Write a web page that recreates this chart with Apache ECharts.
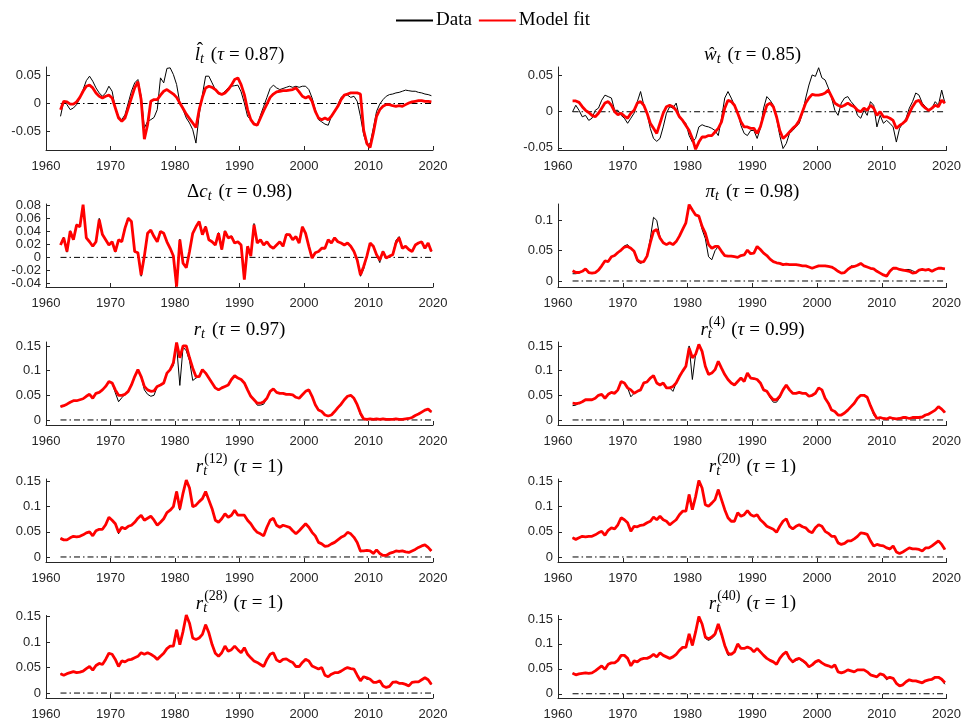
<!DOCTYPE html>
<html>
<head>
<meta charset="utf-8">
<title>Data vs model fit</title>
<script src="https://cdn.jsdelivr.net/npm/echarts@6/dist/echarts.min.js"></script>
<style>
  html, body { margin: 0; padding: 0; background: #fff; }
  #chart { width: 964px; height: 721px; }
</style>
</head>
<body>
<div id="chart"></div>
<script>
// Observation dates: first sample and spacing (years)
const START_YEAR = 1962.25;
const STEP_YEARS = 0.5;

// Labour (hat l_t)
const lhatData = [-0.023,0.004,-0.002,-0.011,-0.008,-0.002,0.010,0.025,0.041,0.049,
  0.040,0.028,0.019,0.013,0.019,0.031,0.022,-0.008,-0.023,-0.029,
  -0.020,0.001,0.022,0.037,0.043,0.013,-0.044,-0.032,-0.029,-0.025,
  -0.011,0.046,0.037,0.063,0.064,0.052,0.034,0.001,-0.011,-0.026,
  -0.035,-0.047,-0.071,-0.020,0.016,0.049,0.049,0.037,0.025,0.017,
  0.017,0.022,0.028,0.031,0.032,0.033,0.021,0.001,-0.023,-0.029,
  -0.035,-0.039,-0.021,-0.005,0.011,0.027,0.033,0.028,0.025,0.027,
  0.029,0.031,0.029,0.031,0.029,0.031,0.031,0.025,0.010,-0.011,
  -0.029,-0.033,-0.037,-0.039,-0.023,-0.015,-0.002,0.011,0.015,0.015,
  0.011,0.013,0.004,-0.023,-0.056,-0.074,-0.072,-0.044,-0.014,-0.001,
  0.007,0.013,0.016,0.017,0.019,0.020,0.022,0.024,0.023,0.022,
  0.022,0.020,0.019,0.017,0.016,0.014];
const lhatFit = [-0.011,0.004,0.003,-0.001,-0.001,0.003,0.011,0.022,0.031,0.033,
  0.028,0.019,0.013,0.010,0.013,0.015,0.010,-0.008,-0.026,-0.032,
  -0.026,-0.008,0.010,0.028,0.039,0.007,-0.064,-0.038,0.004,0.007,
  0.007,0.015,0.022,0.025,0.021,0.017,0.011,0.001,-0.009,-0.019,
  -0.027,-0.035,-0.043,-0.011,0.011,0.028,0.031,0.029,0.025,0.019,
  0.016,0.019,0.025,0.033,0.043,0.046,0.034,0.016,-0.011,-0.029,
  -0.037,-0.039,-0.026,-0.013,-0.001,0.011,0.017,0.021,0.022,0.023,
  0.023,0.024,0.025,0.028,0.021,0.013,0.010,0.013,0.004,-0.014,
  -0.026,-0.029,-0.026,-0.029,-0.023,-0.014,-0.005,0.007,0.015,0.017,
  0.019,0.019,0.019,0.017,-0.048,-0.072,-0.079,-0.053,-0.023,-0.011,
  -0.005,-0.002,-0.002,-0.004,-0.005,-0.004,-0.005,-0.002,0.001,0.003,
  0.004,0.005,0.005,0.004,0.004,0.003];

// Wages (hat w_t)
const whatData = [0,0.009,0.002,-0.007,-0.005,-0.012,-0.009,0.002,0.005,0.016,
  0.023,0.021,0.019,0.002,0.002,-0.005,-0.009,-0.016,-0.009,-0.002,
  0.014,0.028,0.009,-0.002,-0.023,-0.037,-0.041,-0.037,-0.021,-0.002,
  0.007,0.005,0.012,-0.007,-0.012,-0.016,-0.033,-0.042,-0.037,-0.021,
  -0.018,-0.020,-0.021,-0.023,-0.026,-0.033,-0.009,0.019,0.028,0.019,
  0.009,0,-0.019,-0.030,-0.033,-0.026,-0.026,-0.037,-0.023,0.005,
  0.021,0.016,0.009,-0.009,-0.033,-0.051,-0.044,-0.030,-0.026,-0.021,
  -0.016,-0.002,0.019,0.037,0.051,0.049,0.061,0.047,0.044,0.033,
  0.019,0.002,-0.005,0.012,0.019,0.021,0.014,0.009,-0.005,-0.009,
  0.002,-0.005,0.014,0.009,-0.021,-0.005,-0.016,-0.012,-0.016,-0.021,
  -0.042,-0.023,-0.016,-0.009,0.005,0.014,0.026,0.023,0.012,0.007,
  0.002,0.005,0.014,0.009,0.030,0.012];
const whatFit = [0.015,0.015,0.013,0.007,0.002,-0.001,-0.005,-0.007,-0.002,0.005,
  0.012,0.014,0.009,0,-0.004,-0.002,-0.006,-0.009,-0.002,0.002,
  0.012,0.014,0.009,-0.002,-0.016,-0.023,-0.030,-0.016,-0.002,0.007,
  0.009,0.007,0.002,-0.007,-0.012,-0.019,-0.026,-0.037,-0.052,-0.042,
  -0.035,-0.035,-0.033,-0.033,-0.028,-0.023,-0.014,0.005,0.016,0.014,
  0.009,-0.002,-0.014,-0.021,-0.021,-0.023,-0.023,-0.030,-0.021,-0.005,
  0.009,0.012,0.007,-0.007,-0.026,-0.037,-0.033,-0.028,-0.023,-0.019,
  -0.012,0,0.012,0.019,0.024,0.023,0.023,0.024,0.026,0.030,
  0.021,0.012,0.009,0.007,0.009,0.012,0.009,0.007,0.002,0,
  0.005,0.002,0.009,0.005,-0.005,0,-0.007,-0.007,-0.009,-0.012,
  -0.023,-0.019,-0.016,-0.012,-0.002,0.007,0.014,0.016,0.009,0.005,
  0.002,0.005,0.009,0.007,0.016,0.012];

// Consumption growth (Delta c_t)
const dcData = [0.020,0.031,0.008,0.041,0.027,0.051,0.047,0.080,0.030,0.024,
  0.016,0.024,0.060,0.035,0.027,0.019,0.024,0.008,0.027,0.024,
  0.047,0.061,0.055,0.009,0.006,-0.029,0.002,0.038,0.042,0.032,
  0.024,0.040,0.037,0.024,0.014,0.002,-0.043,0.028,-0.010,-0.016,
  0.009,0.037,0.048,0.055,0.035,0.048,0.027,0.024,0.019,0.038,
  0.012,0.041,0.030,0.033,0.022,0.024,0.019,-0.033,0.017,0.002,
  0.052,0.022,0.027,0.019,0.024,0.017,0.014,0.019,0.024,0.017,
  0.036,0.035,0.027,0.032,0.022,0.047,0.037,0.017,-0.001,0.007,
  0.009,0.014,0.014,0.027,0.022,0.030,0.024,0.022,0.019,0.022,
  0.017,0.009,-0.004,-0.029,-0.018,0.002,0.022,0.017,0.004,-0.008,
  0.010,-0.001,0.002,0.004,0.026,0.032,0.014,0.017,0.012,0.009,
  0.019,0.022,0.024,0.014,0.022,0.009];
const dcFit = [0.019,0.030,0.009,0.040,0.027,0.050,0.047,0.081,0.030,0.024,
  0.017,0.024,0.058,0.035,0.027,0.019,0.024,0.009,0.027,0.024,
  0.045,0.060,0.055,0.009,0.007,-0.027,0.002,0.037,0.042,0.032,
  0.024,0.040,0.037,0.024,0.014,0.002,-0.045,0.027,-0.009,-0.016,
  0.009,0.037,0.047,0.055,0.035,0.047,0.027,0.024,0.019,0.037,
  0.012,0.040,0.030,0.032,0.022,0.024,0.019,-0.034,0.017,0.002,
  0.050,0.022,0.027,0.019,0.024,0.017,0.014,0.019,0.024,0.017,
  0.035,0.035,0.027,0.032,0.022,0.047,0.037,0.017,-0.001,0.007,
  0.009,0.014,0.014,0.027,0.022,0.030,0.024,0.022,0.019,0.022,
  0.017,0.009,-0.004,-0.027,-0.014,0.002,0.022,0.017,0.004,-0.004,
  0.009,-0.001,0.002,0.004,0.022,0.030,0.014,0.017,0.012,0.009,
  0.019,0.022,0.024,0.014,0.022,0.009];

// Inflation (pi_t)
const piData = [0.012,0.012,0.013,0.016,0.020,0.014,0.013,0.014,0.018,0.025,
  0.033,0.032,0.040,0.042,0.047,0.051,0.058,0.060,0.054,0.049,
  0.032,0.029,0.032,0.041,0.070,0.105,0.100,0.072,0.063,0.060,
  0.063,0.060,0.065,0.074,0.085,0.096,0.122,0.117,0.109,0.107,
  0.085,0.070,0.040,0.035,0.050,0.057,0.049,0.042,0.041,0.041,
  0.040,0.039,0.042,0.043,0.051,0.045,0.046,0.057,0.052,0.046,
  0.042,0.036,0.032,0.030,0.029,0.027,0.028,0.027,0.027,0.027,
  0.026,0.025,0.025,0.023,0.021,0.023,0.025,0.025,0.025,0.024,
  0.023,0.020,0.016,0.013,0.014,0.019,0.025,0.024,0.026,0.029,
  0.025,0.023,0.021,0.020,0.016,0.013,0.010,0.008,0.016,0.021,
  0.021,0.019,0.018,0.019,0.019,0.017,0.014,0.018,0.019,0.018,
  0.019,0.016,0.019,0.021,0.021,0.020];
const piFit = [0.017,0.014,0.014,0.016,0.020,0.014,0.013,0.014,0.018,0.025,
  0.033,0.032,0.040,0.042,0.047,0.051,0.056,0.057,0.054,0.049,
  0.035,0.031,0.032,0.041,0.063,0.082,0.085,0.071,0.063,0.060,
  0.063,0.060,0.065,0.074,0.085,0.096,0.126,0.117,0.109,0.107,
  0.090,0.079,0.060,0.054,0.057,0.057,0.049,0.042,0.041,0.041,
  0.040,0.039,0.042,0.043,0.051,0.045,0.046,0.057,0.052,0.046,
  0.042,0.036,0.032,0.030,0.029,0.027,0.028,0.027,0.027,0.027,
  0.026,0.025,0.025,0.023,0.021,0.023,0.025,0.025,0.025,0.024,
  0.023,0.020,0.016,0.013,0.014,0.019,0.023,0.024,0.026,0.029,
  0.025,0.023,0.021,0.020,0.016,0.013,0.010,0.008,0.016,0.021,
  0.021,0.019,0.018,0.017,0.016,0.013,0.014,0.018,0.019,0.018,
  0.019,0.016,0.019,0.021,0.021,0.020];

// Short rate (r_t)
const rData = [0.027,0.029,0.032,0.036,0.039,0.039,0.041,0.043,0.048,0.052,
  0.044,0.054,0.056,0.061,0.068,0.078,0.075,0.055,0.037,0.045,
  0.052,0.058,0.071,0.088,0.102,0.088,0.061,0.052,0.048,0.050,
  0.068,0.071,0.075,0.095,0.102,0.110,0.150,0.070,0.148,0.140,
  0.120,0.080,0.085,0.088,0.102,0.095,0.085,0.075,0.065,0.061,
  0.065,0.068,0.071,0.082,0.090,0.085,0.082,0.075,0.061,0.048,
  0.041,0.030,0.030,0.032,0.044,0.058,0.063,0.056,0.054,0.054,
  0.052,0.052,0.051,0.046,0.044,0.051,0.058,0.061,0.048,0.031,
  0.020,0.017,0.010,0.008,0.010,0.017,0.025,0.032,0.041,0.048,
  0.050,0.044,0.031,0.010,0.000,0.001,0.002,0.001,0.002,0.001,
  0.002,0.001,0.001,0.001,0.002,0.001,0.001,0.002,0.003,0.005,
  0.009,0.012,0.016,0.020,0.022,0.016];
const rFit = [0.027,0.029,0.032,0.036,0.039,0.039,0.041,0.043,0.048,0.052,
  0.044,0.054,0.056,0.061,0.068,0.078,0.075,0.061,0.050,0.050,
  0.052,0.058,0.071,0.088,0.102,0.088,0.068,0.061,0.058,0.059,
  0.068,0.071,0.075,0.095,0.102,0.116,0.157,0.126,0.150,0.150,
  0.126,0.105,0.088,0.088,0.102,0.095,0.085,0.075,0.065,0.061,
  0.065,0.068,0.071,0.082,0.090,0.085,0.082,0.075,0.061,0.048,
  0.041,0.034,0.034,0.037,0.044,0.058,0.063,0.056,0.054,0.054,
  0.052,0.052,0.051,0.046,0.044,0.051,0.058,0.061,0.048,0.031,
  0.020,0.017,0.010,0.008,0.010,0.017,0.025,0.032,0.041,0.048,
  0.050,0.044,0.031,0.014,0.002,0.001,0.002,0.001,0.002,0.001,
  0.002,0.001,0.001,0.001,0.002,0.001,0.001,0.002,0.003,0.005,
  0.009,0.012,0.016,0.020,0.022,0.016];

// 4-quarter yield
const r4Data = [0.029,0.030,0.034,0.037,0.041,0.041,0.041,0.044,0.050,0.052,
  0.044,0.052,0.056,0.054,0.061,0.078,0.075,0.065,0.047,0.054,
  0.058,0.061,0.075,0.077,0.085,0.090,0.075,0.071,0.075,0.065,
  0.065,0.058,0.075,0.088,0.099,0.109,0.150,0.082,0.133,0.153,
  0.139,0.109,0.092,0.095,0.102,0.119,0.105,0.092,0.082,0.075,
  0.071,0.078,0.085,0.078,0.095,0.085,0.084,0.082,0.075,0.061,
  0.058,0.045,0.036,0.036,0.045,0.061,0.071,0.061,0.054,0.054,
  0.056,0.054,0.054,0.048,0.050,0.054,0.065,0.061,0.044,0.034,
  0.020,0.017,0.010,0.010,0.014,0.020,0.027,0.034,0.044,0.050,
  0.050,0.046,0.029,0.010,0.003,0.005,0.003,0.002,0.005,0.003,
  0.002,0.003,0.005,0.005,0.003,0.005,0.005,0.005,0.006,0.010,
  0.012,0.016,0.020,0.027,0.022,0.015];
const r4Fit = [0.034,0.033,0.034,0.037,0.041,0.041,0.041,0.044,0.050,0.052,
  0.044,0.052,0.056,0.054,0.061,0.078,0.075,0.065,0.061,0.054,
  0.058,0.061,0.075,0.077,0.085,0.090,0.075,0.071,0.075,0.065,
  0.065,0.068,0.075,0.088,0.099,0.109,0.146,0.126,0.133,0.153,
  0.139,0.109,0.092,0.095,0.102,0.119,0.105,0.092,0.082,0.075,
  0.071,0.078,0.085,0.078,0.095,0.085,0.084,0.082,0.075,0.061,
  0.058,0.048,0.041,0.041,0.048,0.061,0.071,0.061,0.054,0.054,
  0.056,0.054,0.054,0.048,0.050,0.054,0.065,0.061,0.044,0.034,
  0.020,0.017,0.010,0.010,0.014,0.020,0.027,0.034,0.044,0.050,
  0.050,0.046,0.029,0.014,0.003,0.005,0.003,0.002,0.005,0.003,
  0.002,0.003,0.005,0.005,0.003,0.005,0.005,0.005,0.006,0.010,
  0.012,0.016,0.020,0.027,0.022,0.015];

// 12-quarter yield
const r12Data = [0.037,0.034,0.034,0.038,0.041,0.040,0.041,0.044,0.048,0.050,
  0.042,0.052,0.055,0.055,0.064,0.079,0.073,0.066,0.046,0.059,
  0.056,0.061,0.063,0.069,0.077,0.083,0.073,0.077,0.081,0.073,
  0.063,0.069,0.076,0.088,0.093,0.100,0.130,0.093,0.127,0.153,
  0.137,0.100,0.103,0.108,0.116,0.130,0.113,0.096,0.073,0.069,
  0.076,0.086,0.079,0.083,0.093,0.083,0.083,0.083,0.073,0.066,
  0.056,0.049,0.046,0.042,0.059,0.073,0.077,0.063,0.059,0.063,
  0.061,0.059,0.052,0.046,0.052,0.059,0.066,0.059,0.049,0.042,
  0.029,0.026,0.021,0.022,0.026,0.029,0.034,0.039,0.042,0.049,
  0.046,0.039,0.029,0.010,0.012,0.013,0.012,0.006,0.014,0.007,
  0.003,0.003,0.007,0.009,0.012,0.011,0.012,0.010,0.009,0.012,
  0.015,0.019,0.022,0.024,0.019,0.012];
const r12Fit = [0.037,0.034,0.034,0.038,0.041,0.040,0.041,0.044,0.048,0.050,
  0.042,0.052,0.055,0.055,0.064,0.079,0.073,0.066,0.049,0.059,
  0.056,0.061,0.063,0.069,0.077,0.083,0.073,0.077,0.081,0.073,
  0.063,0.069,0.076,0.088,0.093,0.100,0.130,0.096,0.127,0.153,
  0.137,0.100,0.103,0.110,0.116,0.130,0.113,0.096,0.073,0.069,
  0.076,0.086,0.079,0.083,0.093,0.083,0.083,0.083,0.073,0.066,
  0.056,0.049,0.046,0.042,0.059,0.073,0.077,0.063,0.059,0.063,
  0.061,0.059,0.052,0.046,0.052,0.059,0.066,0.059,0.049,0.042,
  0.029,0.026,0.021,0.022,0.026,0.029,0.034,0.039,0.042,0.049,
  0.046,0.039,0.029,0.012,0.012,0.013,0.012,0.007,0.014,0.007,
  0.003,0.003,0.007,0.009,0.012,0.011,0.012,0.010,0.009,0.012,
  0.015,0.019,0.022,0.024,0.019,0.012];

// 20-quarter yield
const r20Data = [0.038,0.035,0.038,0.041,0.040,0.041,0.041,0.044,0.048,0.051,
  0.043,0.053,0.058,0.056,0.064,0.078,0.074,0.068,0.051,0.061,
  0.060,0.063,0.064,0.068,0.071,0.079,0.074,0.081,0.074,0.071,
  0.064,0.069,0.074,0.084,0.091,0.091,0.124,0.094,0.120,0.152,
  0.137,0.104,0.101,0.107,0.114,0.134,0.114,0.094,0.078,0.071,
  0.071,0.088,0.081,0.084,0.092,0.084,0.081,0.084,0.074,0.068,
  0.061,0.058,0.055,0.049,0.061,0.071,0.076,0.059,0.056,0.061,
  0.064,0.060,0.058,0.051,0.048,0.058,0.064,0.061,0.051,0.047,
  0.041,0.041,0.030,0.025,0.027,0.032,0.032,0.036,0.041,0.048,
  0.047,0.045,0.032,0.022,0.023,0.023,0.022,0.018,0.014,0.022,
  0.010,0.007,0.010,0.014,0.018,0.016,0.016,0.015,0.012,0.018,
  0.018,0.022,0.027,0.032,0.025,0.015];
const r20Fit = [0.038,0.035,0.038,0.041,0.040,0.041,0.041,0.044,0.048,0.051,
  0.043,0.053,0.058,0.056,0.064,0.078,0.074,0.068,0.051,0.061,
  0.060,0.063,0.064,0.068,0.071,0.079,0.074,0.081,0.074,0.071,
  0.064,0.069,0.074,0.084,0.091,0.091,0.124,0.094,0.120,0.152,
  0.137,0.104,0.101,0.107,0.114,0.134,0.114,0.094,0.078,0.071,
  0.071,0.088,0.081,0.084,0.092,0.084,0.081,0.084,0.074,0.068,
  0.061,0.058,0.055,0.049,0.061,0.071,0.076,0.061,0.056,0.061,
  0.064,0.060,0.058,0.051,0.048,0.058,0.064,0.061,0.051,0.047,
  0.041,0.041,0.028,0.025,0.027,0.032,0.032,0.036,0.041,0.048,
  0.047,0.045,0.032,0.022,0.025,0.023,0.022,0.018,0.016,0.022,
  0.010,0.007,0.010,0.014,0.018,0.016,0.016,0.015,0.012,0.018,
  0.018,0.022,0.027,0.032,0.025,0.015];

// 28-quarter yield
const r28Data = [0.038,0.035,0.038,0.040,0.042,0.040,0.041,0.043,0.048,0.052,
  0.045,0.054,0.058,0.056,0.067,0.078,0.076,0.066,0.052,0.063,
  0.061,0.065,0.066,0.069,0.072,0.079,0.076,0.079,0.076,0.072,
  0.066,0.072,0.078,0.087,0.092,0.092,0.124,0.095,0.121,0.153,
  0.137,0.108,0.105,0.108,0.115,0.134,0.118,0.095,0.078,0.072,
  0.079,0.092,0.082,0.085,0.092,0.085,0.079,0.089,0.076,0.069,
  0.063,0.060,0.056,0.052,0.066,0.076,0.079,0.065,0.061,0.066,
  0.067,0.063,0.060,0.054,0.052,0.060,0.066,0.063,0.053,0.050,
  0.047,0.050,0.035,0.032,0.037,0.040,0.040,0.043,0.047,0.050,
  0.048,0.047,0.035,0.024,0.032,0.027,0.027,0.021,0.021,0.024,
  0.014,0.011,0.013,0.023,0.022,0.019,0.019,0.017,0.014,0.021,
  0.022,0.022,0.026,0.030,0.026,0.017];
const r28Fit = [0.038,0.035,0.038,0.040,0.042,0.040,0.041,0.043,0.048,0.052,
  0.045,0.054,0.058,0.056,0.066,0.078,0.076,0.066,0.052,0.063,
  0.061,0.065,0.066,0.069,0.072,0.079,0.076,0.079,0.076,0.072,
  0.066,0.072,0.078,0.087,0.092,0.092,0.124,0.095,0.121,0.153,
  0.137,0.108,0.105,0.108,0.115,0.134,0.118,0.095,0.078,0.072,
  0.079,0.092,0.082,0.085,0.092,0.085,0.079,0.089,0.076,0.069,
  0.063,0.060,0.056,0.052,0.066,0.076,0.079,0.065,0.061,0.066,
  0.067,0.063,0.060,0.052,0.052,0.060,0.066,0.063,0.053,0.050,
  0.047,0.050,0.035,0.032,0.037,0.040,0.040,0.043,0.047,0.050,
  0.048,0.047,0.035,0.024,0.032,0.030,0.027,0.021,0.021,0.024,
  0.014,0.011,0.013,0.021,0.022,0.019,0.019,0.017,0.014,0.021,
  0.022,0.022,0.026,0.030,0.026,0.017];

// 40-quarter yield
const r40Data = [0.041,0.038,0.040,0.041,0.042,0.041,0.042,0.046,0.051,0.056,
  0.049,0.059,0.062,0.062,0.067,0.077,0.077,0.071,0.056,0.066,
  0.064,0.069,0.071,0.071,0.074,0.079,0.074,0.082,0.077,0.074,
  0.071,0.074,0.079,0.087,0.093,0.093,0.120,0.097,0.124,0.155,
  0.140,0.111,0.107,0.111,0.117,0.137,0.117,0.097,0.077,0.079,
  0.084,0.100,0.091,0.091,0.094,0.091,0.084,0.091,0.084,0.077,
  0.071,0.067,0.064,0.059,0.071,0.079,0.082,0.069,0.062,0.067,
  0.069,0.065,0.060,0.054,0.058,0.064,0.067,0.062,0.058,0.056,
  0.053,0.058,0.044,0.042,0.044,0.048,0.046,0.044,0.048,0.048,
  0.048,0.044,0.038,0.036,0.034,0.040,0.038,0.028,0.033,0.031,
  0.021,0.016,0.018,0.024,0.028,0.026,0.026,0.024,0.022,0.026,
  0.028,0.029,0.033,0.033,0.027,0.019];
const r40Fit = [0.041,0.038,0.040,0.041,0.042,0.041,0.042,0.046,0.051,0.056,
  0.049,0.059,0.062,0.062,0.067,0.077,0.077,0.071,0.056,0.066,
  0.064,0.069,0.071,0.071,0.074,0.079,0.074,0.082,0.077,0.074,
  0.071,0.074,0.079,0.087,0.093,0.093,0.120,0.097,0.124,0.155,
  0.140,0.114,0.110,0.114,0.120,0.140,0.120,0.097,0.081,0.079,
  0.084,0.100,0.091,0.091,0.094,0.091,0.084,0.091,0.084,0.077,
  0.071,0.067,0.064,0.059,0.071,0.079,0.084,0.071,0.064,0.069,
  0.071,0.067,0.062,0.054,0.058,0.064,0.067,0.062,0.058,0.056,
  0.053,0.058,0.044,0.042,0.044,0.048,0.046,0.044,0.048,0.048,
  0.048,0.044,0.038,0.036,0.034,0.040,0.038,0.031,0.033,0.031,
  0.021,0.016,0.018,0.024,0.028,0.026,0.026,0.024,0.022,0.026,
  0.028,0.029,0.033,0.033,0.029,0.022];

// Axis settings
const xRange = [1960, 2020];
const xStep = 10;
const tau = ['0.87', '0.85', '0.98', '0.98', '0.97', '0.99', '1', '1', '1', '1'];

// Panel specs: series, y-limits, y tick values and title pieces
const panels = [
  { data: lhatData, fit: lhatFit, yMin: -0.0834, yMax: 0.0655, yTicks: [-0.05, 0, 0.05],
    title: [{ s: 'l', f: 'it', hat: true }, { s: 't', f: 'sub' }] },
  { data: whatData, fit: whatFit, yMin: -0.053, yMax: 0.062, yTicks: [-0.05, 0, 0.05],
    title: [{ s: 'ŵ', f: 'it' }, { s: 't', f: 'sub' }] },
  { data: dcData, fit: dcFit, yMin: -0.0455, yMax: 0.082, yTicks: [-0.04, -0.02, 0, 0.02, 0.04, 0.06, 0.08],
    title: [{ s: 'Δ', f: 'rm' }, { s: 'c', f: 'it' }, { s: 't', f: 'sub' }] },
  { data: piData, fit: piFit, yMin: -0.0099, yMax: 0.127, yTicks: [0, 0.05, 0.1],
    title: [{ s: 'π', f: 'it' }, { s: 't', f: 'sub' }] },
  { data: rData, fit: rFit, yMin: -0.0102, yMax: 0.158, yTicks: [0, 0.05, 0.1, 0.15],
    title: [{ s: 'r', f: 'it' }, { s: 't', f: 'sub' }] },
  { data: r4Data, fit: r4Fit, yMin: -0.0102, yMax: 0.158, yTicks: [0, 0.05, 0.1, 0.15],
    title: [{ s: 'r', f: 'it' }, { s: 't', f: 'sub', sup: '(4)' }] },
  { data: r12Data, fit: r12Fit, yMin: -0.01, yMax: 0.155, yTicks: [0, 0.05, 0.1, 0.15],
    title: [{ s: 'r', f: 'it' }, { s: 't', f: 'sub', sup: '(12)' }] },
  { data: r20Data, fit: r20Fit, yMin: -0.01, yMax: 0.155, yTicks: [0, 0.05, 0.1, 0.15],
    title: [{ s: 'r', f: 'it' }, { s: 't', f: 'sub', sup: '(20)' }] },
  { data: r28Data, fit: r28Fit, yMin: -0.0097, yMax: 0.152, yTicks: [0, 0.05, 0.1, 0.15],
    title: [{ s: 'r', f: 'it' }, { s: 't', f: 'sub', sup: '(28)' }] },
  { data: r40Data, fit: r40Fit, yMin: -0.0085, yMax: 0.157, yTicks: [0, 0.05, 0.1, 0.15],
    title: [{ s: 'r', f: 'it' }, { s: 't', f: 'sub', sup: '(40)' }] }
];

// Page layout (pixels)
const colLeft = [46, 558];
const colWidth = [387, 389];
const rowTop = [67, 204, 342, 479, 615.5];
const plotHeight = 83;

const SERIF = '"Liberation Serif", "Times New Roman", serif';
const SANS = '"Liberation Sans", Arial, Helvetica, sans-serif';
const AXIS_COLOR = '#262626';
const FONTS = {
  rm: '19px ' + SERIF,
  it: 'italic 19px ' + SERIF,
  sub: 'italic 14px ' + SERIF,
  sup: '14px ' + SERIF
};
const DY = { rm: 0, it: 0, sub: 4.5, sup: -7.5 };

const measureCtx = document.createElement('canvas').getContext('2d');
function textWidth(str, font) {
  measureCtx.font = font;
  return measureCtx.measureText(str).width;
}

function fmtTick(v) {
  return String(+v.toFixed(4));
}

// Build the title of one panel as positioned text pieces
function titleGraphics(spec, tauText, cx, cy) {
  const pieces = spec.slice();
  pieces.push({ gap: 6 });
  pieces.push({ s: '(', f: 'rm' });
  pieces.push({ s: 'τ', f: 'it' });
  pieces.push({ gap: 5 });
  pieces.push({ s: '=', f: 'rm' });
  pieces.push({ gap: 5 });
  pieces.push({ s: tauText + ')', f: 'rm' });

  const widths = pieces.map(p => {
    if (p.gap) return p.gap;
    let w = textWidth(p.s, FONTS[p.f]);
    if (p.sup) w = Math.max(w, textWidth(p.sup, FONTS.sup));
    if (p.f === 'sub') w += 1;
    return w;
  });
  const total = widths.reduce((a, b) => a + b, 0);
  let x = cx - total / 2;
  const out = [];
  pieces.forEach((p, k) => {
    if (!p.gap) {
      out.push({
        type: 'text', x: x, y: cy + DY[p.f], silent: true,
        style: { text: p.s, font: FONTS[p.f], fill: '#000', align: 'left', verticalAlign: 'middle' }
      });
      if (p.sup) {
        out.push({
          type: 'text', x: x + 1, y: cy + DY.sup, silent: true,
          style: { text: p.sup, font: FONTS.sup, fill: '#000', align: 'left', verticalAlign: 'middle' }
        });
      }
      if (p.hat) {
        out.push({
          type: 'text', x: x + widths[k] / 2 + 2.5, y: cy - 5, silent: true,
          style: { text: 'ˆ', font: FONTS.rm, fill: '#000', align: 'center', verticalAlign: 'middle' }
        });
      }
    }
    x += widths[k];
  });
  return out;
}

const grids = [], xAxes = [], yAxes = [], series = [], graphics = [];

panels.forEach((p, i) => {
  const col = i % 2, row = Math.floor(i / 2);
  const left = colLeft[col], top = rowTop[row], width = colWidth[col];
  grids.push({ left: left, top: top, width: width, height: plotHeight, containLabel: false });

  xAxes.push({
    gridIndex: i, type: 'value', min: xRange[0], max: xRange[1], interval: xStep,
    axisLine: { show: true, onZero: false, lineStyle: { color: AXIS_COLOR, width: 1 } },
    axisTick: { show: true, inside: true, length: 4, lineStyle: { color: AXIS_COLOR } },
    axisLabel: { color: AXIS_COLOR, fontFamily: SANS, fontSize: 13, margin: 10, formatter: v => String(v) },
    splitLine: { show: false }
  });
  yAxes.push({
    gridIndex: i, type: 'value', min: p.yMin, max: p.yMax,
    axisLine: { show: true, onZero: false, lineStyle: { color: AXIS_COLOR, width: 1 } },
    axisTick: { show: true, inside: true, length: 4, customValues: p.yTicks, lineStyle: { color: AXIS_COLOR } },
    axisLabel: { color: AXIS_COLOR, fontFamily: SANS, fontSize: 13, margin: 5, customValues: p.yTicks, formatter: fmtTick },
    splitLine: { show: false }
  });

  const n = Math.min(p.data.length, p.fit.length);
  const dates = [];
  for (let k = 0; k < n; k++) dates.push(START_YEAR + k * STEP_YEARS);

  series.push({
    name: 'zero', type: 'line', xAxisIndex: i, yAxisIndex: i, silent: true,
    symbol: 'none', z: 1,
    lineStyle: { color: '#000', width: 1, type: [6, 3, 1.5, 3] },
    data: [[dates[0], 0], [dates[n - 1], 0]]
  });
  series.push({
    name: 'Data', type: 'line', xAxisIndex: i, yAxisIndex: i,
    symbol: 'none', z: 2, color: '#000',
    lineStyle: { color: '#000', width: 1 },
    data: dates.map((d, k) => [d, p.data[k]])
  });
  series.push({
    name: 'Model fit', type: 'line', xAxisIndex: i, yAxisIndex: i,
    symbol: 'none', z: 3, color: '#ff0000',
    lineStyle: { color: '#ff0000', width: 2.8 },
    data: dates.map((d, k) => [d, p.fit[k]])
  });

  titleGraphics(p.title, tau[i], left + width / 2, top - 12).forEach(g => graphics.push(g));
});

const chart = echarts.init(document.getElementById('chart'), null, { renderer: 'canvas' });
chart.setOption({
  animation: false,
  backgroundColor: '#fff',
  legend: {
    data: ['Data', 'Model fit'],
    top: 6, left: 390,
    itemWidth: 37, itemHeight: 12, itemGap: 6,
    itemStyle: { opacity: 0 },
    textStyle: { fontFamily: SERIF, fontSize: 19, color: '#000', padding: [0, 0, 0, -2] }
  },
  grid: grids,
  xAxis: xAxes,
  yAxis: yAxes,
  series: series,
  graphic: graphics
});
</script>
</body>
</html>
